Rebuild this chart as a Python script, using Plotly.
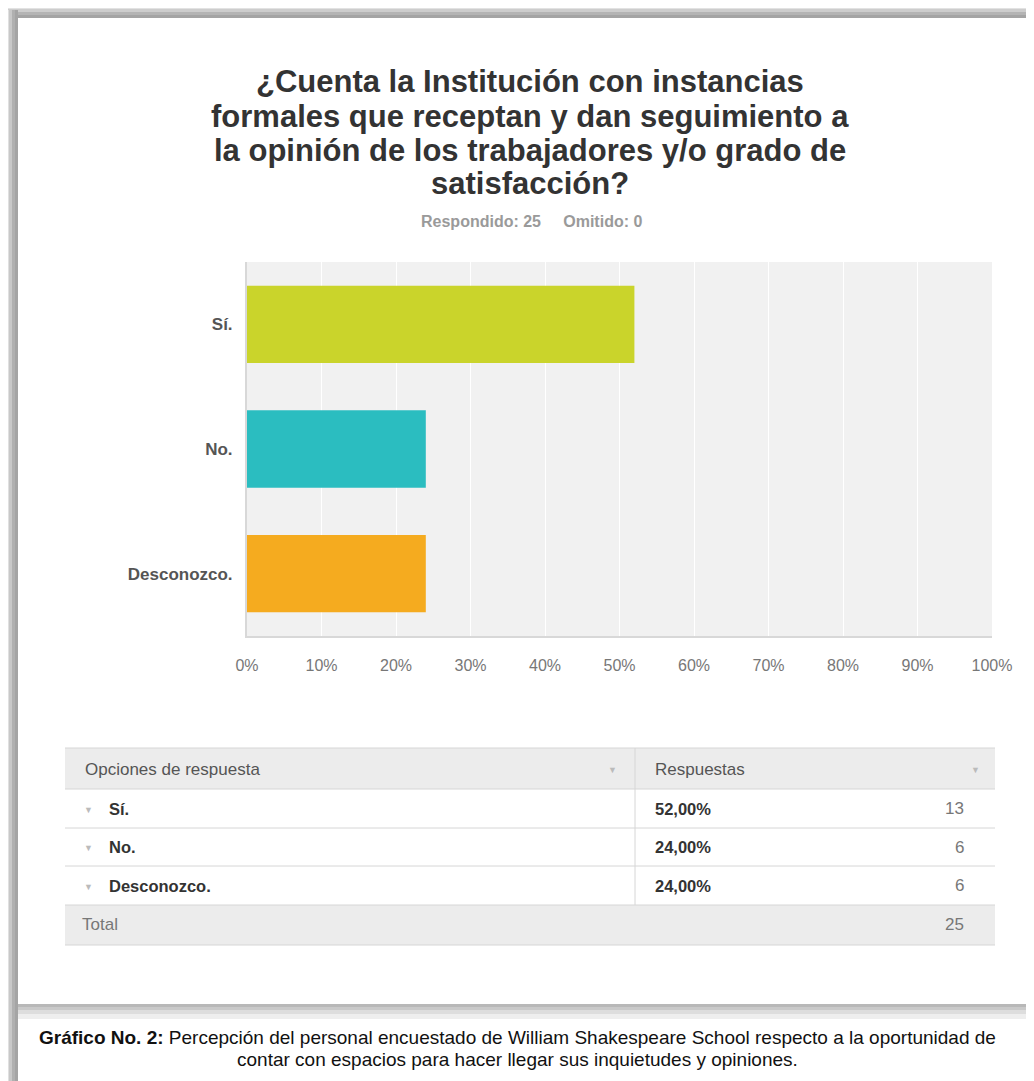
import plotly.graph_objects as go

# ---- data ----
categories = ["Sí.", "No.", "Desconozco."]
percentages = [52, 24, 24]
counts = [13, 6, 6]
total = 25
answered = 25
omitted = 0
bar_colors = ["#cad42b", "#2bbdc0", "#f5ab1f"]
x_ticks = [0, 10, 20, 30, 40, 50, 60, 70, 80, 90, 100]
title_lines = [
    "¿Cuenta la Institución con instancias",
    "formales que receptan y dan seguimiento a",
    "la opinión de los trabajadores y/o grado de",
    "satisfacción?",
]
caption_lines = [
    "<b>Gráfico No. 2:</b> Percepción del personal encuestado de William Shakespeare School respecto a la oportunidad de",
    "contar con espacios para hacer llegar sus inquietudes y opiniones.",
]

W, H = 1034, 1081
OFF = 8  # page body margin
FONT = "Liberation Sans"


def px(x):
    return (x - OFF) / W


def py(y):
    return 1 - (y - OFF) / H


fig = go.Figure()
fig.add_trace(go.Bar(
    x=percentages, y=categories, orientation="h",
    marker=dict(color=bar_colors, line=dict(width=0)),
    width=0.62, hoverinfo="skip",
))

shapes = []
annotations = []


def rect(x0, y0, x1, y1, color, layer="below"):
    shapes.append(dict(type="rect", xref="paper", yref="paper",
                       x0=px(x0), x1=px(x1), y0=py(y1), y1=py(y0),
                       fillcolor=color, line=dict(width=0), layer=layer))


def hline(x0, x1, y, color, width=1):
    shapes.append(dict(type="line", xref="paper", yref="paper",
                       x0=px(x0), x1=px(x1), y0=py(y), y1=py(y),
                       line=dict(color=color, width=width), layer="above"))


def vline(x, y0, y1, color, width=1):
    shapes.append(dict(type="line", xref="paper", yref="paper",
                       x0=px(x), x1=px(x), y0=py(y0), y1=py(y1),
                       line=dict(color=color, width=width), layer="above"))


def text(x, y, s, size=13, color="#333", anchor="left", bold=False):
    if bold:
        s = "<b>" + s + "</b>"
    annotations.append(dict(xref="paper", yref="paper", x=px(x), y=py(y),
                            text=s, showarrow=False, xanchor=anchor, yanchor="middle",
                            font=dict(family=FONT, size=size, color=color)))


# ---- page frame / shadows ----
top_grad = [(0, 5, "#f3f3f3"), (5, 9, "#e2e2e2"), (9, 12, "#cdcdcd"), (12, 15, "#b4b4b4"), (15, 18, "#a4a4a4")]
for y0, y1, c in top_grad:
    rect(0, y0, W + OFF, y1, c)
left_grad = [(0, 5, "#f3f3f3"), (5, 9, "#e0e0e0"), (9, 12, "#c8c8c8"), (12, 15, "#b0b0b0"), (15, 18, "#a4a4a4")]
for x0, x1, c in left_grad:
    rect(x0, 10, x1, H + OFF, c)
bot_grad = [(1004, 1007, "#b8b8b8"), (1007, 1010, "#c9c9c9"), (1010, 1014, "#dddddd"), (1014, 1019, "#eeeeee")]
for y0, y1, c in bot_grad:
    rect(18, y0, W + OFF, y1, c)

# ---- title ----
for i, line in enumerate(title_lines):
    text(530, 82 + i * 34, line, size=31, color="#333", anchor="center", bold=True)
text(531, 222, f"Respondido: {answered}&nbsp;&nbsp;&nbsp;&nbsp;&nbsp;Omitido: {omitted}", size=16,
     color="#9a9a9a", anchor="center", bold=True)

# ---- table ----
T_L, T_R, T_DIV = 65, 995, 635
rows_y = [748, 789, 828, 866, 905, 945]
rect(T_L, rows_y[0], T_R, rows_y[1], "#ececec", layer="above")
rect(T_L, rows_y[4], T_R, rows_y[5], "#ececec", layer="above")
for yy in rows_y:
    hline(T_L, T_R, yy, "#d6d6d6", 1)
vline(T_DIV, rows_y[0], rows_y[4], "#d6d6d6", 1)

TS = 17
TB = 16.5
text(83, 769, "Opciones de respuesta", size=TS, color="#555")
text(612, 770, "▼", size=9, color="#bbb", anchor="center")
text(653, 769, "Respuestas", size=TS, color="#555")
text(975, 770, "▼", size=9, color="#bbb", anchor="center")
for i, (cat, p, n) in enumerate(zip(categories, percentages, counts)):
    yc = (rows_y[i + 1] + rows_y[i + 2]) / 2
    text(88, yc + 1, "▼", size=9, color="#bbb", anchor="center")
    text(107, yc, cat, size=TB, color="#333", bold=True)
    text(653, yc, f"{p:.2f}%".replace(".", ","), size=TB, color="#333", bold=True)
    text(966, yc, str(n), size=TS, color="#777", anchor="right")
text(80, 925, "Total", size=TS, color="#777")
text(966, 925, str(total), size=TS, color="#777", anchor="right")

# ---- caption ----
for i, line in enumerate(caption_lines):
    text(517, 1037 + i * 22, line, size=19, color="#111", anchor="center")

fig.update_layout(
    width=W, height=H, autosize=False,
    margin=dict(l=0, r=0, t=0, b=0, pad=0),
    paper_bgcolor="#ffffff",
    plot_bgcolor="#f1f1f1",
    showlegend=False,
    shapes=shapes,
    annotations=annotations,
    xaxis=dict(
        domain=[px(247), px(992)], range=[0, 100], automargin=False,
        tickvals=x_ticks, ticktext=[f"{v}%" for v in x_ticks],
        showgrid=True, gridcolor="#ffffff", gridwidth=1,
        zeroline=False, showline=True, linecolor="#d8d8d8", linewidth=2,
        ticks="", ticklabelstandoff=14,
        tickfont=dict(family=FONT, size=16, color="#777"),
        fixedrange=True,
    ),
    yaxis=dict(
        domain=[py(636), py(262)], automargin=False,
        categoryorder="array", categoryarray=categories, autorange="reversed",
        showgrid=False, zeroline=False, showline=True, linecolor="#d8d8d8", linewidth=2,
        ticks="", ticklabelstandoff=9,
        tickfont=dict(family=FONT, size=17, color="#555", weight="bold"),
        fixedrange=True,
    ),
)

fig.write_html("out.html", config={"responsive": False, "displayModeBar": False})
